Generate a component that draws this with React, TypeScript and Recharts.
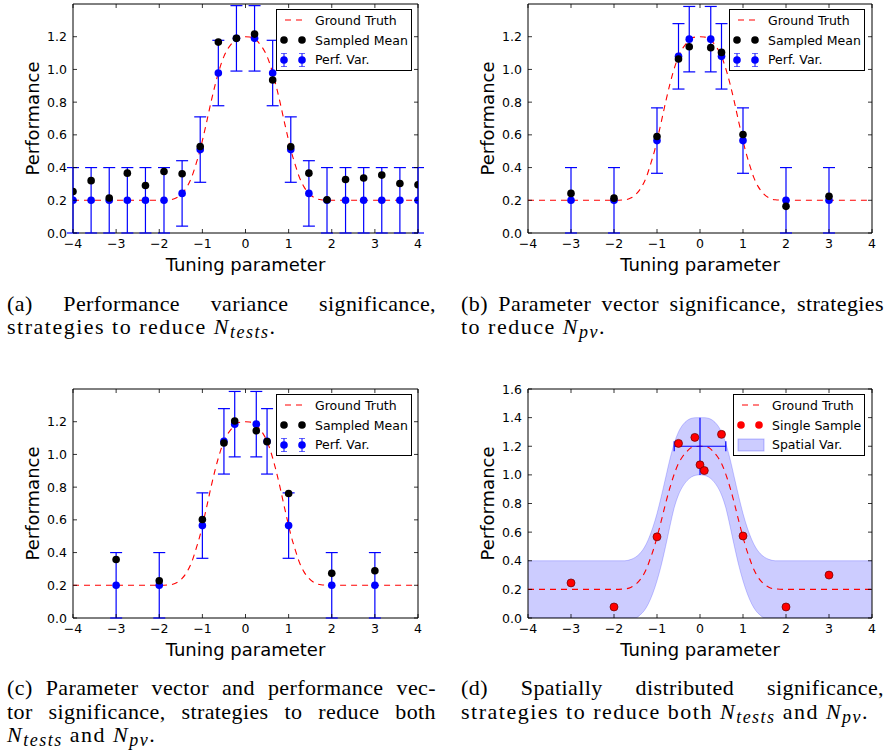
import React from "react";
import { Area, ComposedChart, ErrorBar, Label, Legend, Line, ReferenceArea, Scatter, XAxis, YAxis } from "recharts";

const FONT = "'DejaVu Sans', sans-serif";
const SERIF = "'Liberation Serif', 'DejaVu Serif', serif";

// ground truth curve
const GT_X = [-4, -2, -1.75, -1.6, -1.47, -1.35, -1.25, -1.15, -1.05, -1, -0.9, -0.8, -0.7, -0.63, -0.5, -0.4, -0.3, -0.21, -0.1, 0,
  0.1, 0.21, 0.3, 0.4, 0.5, 0.63, 0.7, 0.8, 0.9, 1, 1.05, 1.15, 1.25, 1.35, 1.47, 1.6, 1.75, 2, 4];
const GT_Y = [0.2, 0.2, 0.203, 0.215, 0.242, 0.285, 0.34, 0.42, 0.51, 0.565, 0.68, 0.8, 0.91, 0.978, 1.08, 1.13, 1.165, 1.19, 1.198, 1.2,
  1.198, 1.19, 1.165, 1.13, 1.08, 0.978, 0.91, 0.8, 0.68, 0.565, 0.51, 0.42, 0.34, 0.285, 0.242, 0.215, 0.203, 0.2, 0.2];

// (a) performance variance
const A_X = [-4, -3.58, -3.16, -2.74, -2.32, -1.89, -1.47, -1.05, -0.63, -0.21, 0.21, 0.63, 1.05, 1.47, 1.89, 2.32, 2.74, 3.16, 3.58, 4];
const A_MEAN = [0.254, 0.32, 0.214, 0.366, 0.29, 0.376, 0.362, 0.529, 1.167, 1.19, 1.216, 0.935, 0.527, 0.366, 0.203, 0.327, 0.336, 0.354, 0.303, 0.295];
const A_TRUE = [0.2, 0.2, 0.2, 0.2, 0.2, 0.2, 0.242, 0.51, 0.978, 1.19, 1.19, 0.978, 0.51, 0.242, 0.2, 0.2, 0.2, 0.2, 0.2, 0.2];
const A_ERR = [0.2, 0.2, 0.2, 0.2, 0.2, 0.2, 0.2, 0.2, 0.2, 0.2, 0.2, 0.2, 0.2, 0.2, 0.2, 0.2, 0.2, 0.2, 0.2, 0.2];

// (b), (c) parameter vectors
const PV_X = [-3, -2, -1, -0.5, -0.25, 0.25, 0.5, 1, 2, 3];
const PV_TRUE = [0.2, 0.2, 0.565, 1.08, 1.185, 1.185, 1.08, 0.565, 0.2, 0.2];
const PV_ERR = [0.2, 0.2, 0.2, 0.2, 0.2, 0.2, 0.2, 0.2, 0.2, 0.2];
const B_MEAN = [0.242, 0.213, 0.59, 1.064, 1.139, 1.133, 1.104, 0.602, 0.163, 0.224];
const C_MEAN = [0.358, 0.228, 0.602, 1.07, 1.204, 1.145, 1.078, 0.761, 0.273, 0.289];

// (d) spatial
const D_X = [-3, -2, -1, -0.5, -0.12, 0, 0.1, 0.5, 1, 2, 3];
const D_Y = [0.245, 0.077, 0.567, 1.22, 1.262, 1.07, 1.03, 1.283, 0.573, 0.077, 0.3];
const BAND_X = [-4, -1.75, -1.6, -1.5, -1.4, -1.3, -1.2, -1.1, -1, -0.9, -0.8, -0.7, -0.6, -0.5, -0.4, -0.3, -0.2, -0.1, 0,
  0.1, 0.2, 0.3, 0.4, 0.5, 0.6, 0.7, 0.8, 0.9, 1, 1.1, 1.2, 1.3, 1.4, 1.5, 1.6, 1.75, 4];
const BAND_HI = [0.4, 0.4, 0.41, 0.425, 0.45, 0.49, 0.55, 0.63, 0.73, 0.85, 0.98, 1.11, 1.22, 1.3, 1.35, 1.38, 1.395, 1.4, 1.4,
  1.4, 1.395, 1.38, 1.35, 1.3, 1.22, 1.11, 0.98, 0.85, 0.73, 0.63, 0.55, 0.49, 0.45, 0.425, 0.41, 0.4, 0.4];
const BAND_LO = [0, 0, 0, 0, 0.02, 0.05, 0.1, 0.17, 0.26, 0.37, 0.5, 0.64, 0.77, 0.86, 0.92, 0.96, 0.985, 0.997, 1,
  0.997, 0.985, 0.96, 0.92, 0.86, 0.77, 0.64, 0.5, 0.37, 0.26, 0.17, 0.1, 0.05, 0.02, 0, 0, 0, 0];
const CROSS = { x: 0, y: 1.2, ex: 0.6, ey: 0.2 };

const X_TICKS = [-4, -3, -2, -1, 0, 1, 2, 3, 4];
const Y_TICKS = [0, 0.2, 0.4, 0.6, 0.8, 1.0, 1.2];
const Y_TICKS_D = [0, 0.2, 0.4, 0.6, 0.8, 1.0, 1.2, 1.4, 1.6];

const groundTruth = GT_X.map((x, i) => ({ x, y: GT_Y[i] }));
const pts = (xs: number[], ys: number[], es?: number[]) => xs.map((x, i) => ({ x, y: ys[i], e: es ? es[i] : 0 }));
const band = BAND_X.map((x, i) => ({ x, range: [BAND_LO[i], BAND_HI[i]] }));

type Plot = { left: number; right: number; top: number; bottom: number };
const W = 446;
const H = 290;
const PAD = 10; // extra room above the frame so the top tick label is not cut

const fmtX = (v: number) => (v < 0 ? "\u2212" + Math.abs(v) : String(v));

const dot = (fill: string, r = 3.8, stroke = "none") => (p: any) =>
  <circle cx={p.cx} cy={p.cy} r={r} fill={fill} stroke={stroke} strokeWidth={0.7} />;

type Item = { label: string; kind: "dash" | "dots" | "err" | "patch"; color: string };

function Marker({ it }: { it: Item }) {
  if (it.kind === "dash") return <line x1={8} x2={27} y1={10} y2={10} stroke={it.color} strokeWidth={1.2} strokeDasharray="6 5" />;
  if (it.kind === "patch") return <rect x={4} y={4} width={26} height={12} fill="#0000ff" fillOpacity={0.2} stroke="#0000ff" strokeOpacity={0.25} />;
  const cs = [7, 25];
  return (
    <g>
      {cs.map((c) => (
        <g key={c}>
          {it.kind === "err" && (
            <g stroke="#0000ff" strokeWidth={1}>
              <line x1={c} x2={c} y1={3.5} y2={16.5} />
              <line x1={c - 3} x2={c + 3} y1={3.5} y2={3.5} strokeOpacity={0.6} />
              <line x1={c - 3} x2={c + 3} y1={16.5} y2={16.5} strokeOpacity={0.6} />
            </g>
          )}
          <circle cx={c} cy={10} r={3.8} fill={it.color} />
        </g>
      ))}
    </g>
  );
}

function LegendBox({ items, width }: { items: Item[]; width: number }) {
  return (
    <div style={{ width, height: 62, border: "1px solid #000", background: "#fff", boxSizing: "border-box", paddingTop: 0.5, fontFamily: FONT, fontSize: 12.5, color: "#000" }}>
      {items.map((it) => (
        <div key={it.label} style={{ display: "flex", alignItems: "center", height: 19.7, whiteSpace: "nowrap" }}>
          <svg width={35} height={20} style={{ flex: "none" }}><Marker it={it} /></svg>
          <span style={{ marginLeft: 3 }}>{it.label}</span>
        </div>
      ))}
    </div>
  );
}

function Panel({ plot, yMax, yTicks, legend, children }: { plot: Plot; yMax: number; yTicks: number[]; legend: { items: Item[]; left: number; width: number }; children: React.ReactNode }) {
  const xTick = (p: any) => (
    <g>
      <line x1={p.x} x2={p.x} y1={plot.bottom} y2={plot.bottom - 4} stroke="#000" strokeWidth={0.8} />
      <line x1={p.x} x2={p.x} y1={plot.top} y2={plot.top + 4} stroke="#000" strokeWidth={0.8} />
      <text x={p.x} y={plot.bottom + 15} textAnchor="middle" fontSize={12.5} fontFamily={FONT} fill="#000">{fmtX(p.payload.value)}</text>
    </g>
  );
  const yTick = (p: any) => (
    <g>
      <line x1={plot.left} x2={plot.left + 4} y1={p.y} y2={p.y} stroke="#000" strokeWidth={0.8} />
      <line x1={plot.right} x2={plot.right - 4} y1={p.y} y2={p.y} stroke="#000" strokeWidth={0.8} />
      <text x={plot.left - 6} y={p.y + 4.5} textAnchor="end" fontSize={12.5} fontFamily={FONT} fill="#000">{p.payload.value.toFixed(1)}</text>
    </g>
  );
  return (
    <ComposedChart width={W} height={H} margin={{ top: plot.top, right: W - plot.right, bottom: 0, left: 0 }}>
      <XAxis type="number" dataKey="x" domain={[-4, 4]} ticks={X_TICKS} allowDataOverflow height={H - plot.bottom}
        axisLine={false} tickLine={false} tick={xTick} interval={0}>
        <Label content={() => (
          <text x={(plot.left + plot.right) / 2} y={plot.bottom + 38} textAnchor="middle" fontSize={18} fontFamily={FONT} fill="#000">Tuning parameter</text>
        )} />
      </XAxis>
      <YAxis type="number" domain={[0, yMax]} ticks={yTicks} allowDataOverflow width={plot.left}
        axisLine={false} tickLine={false} tick={yTick} interval={0}>
        <Label content={() => {
          const cx = plot.left - 41;
          const cy = (plot.top + plot.bottom) / 2;
          return <text x={cx} y={cy} transform={`rotate(-90 ${cx} ${cy})`} textAnchor="middle" dominantBaseline="central" fontSize={18} fontFamily={FONT} fill="#000">Performance</text>;
        }} />
      </YAxis>
      {children}
      <ReferenceArea x1={-4} x2={4} y1={0} y2={yMax} fill="none" stroke="#000" strokeWidth={1} />
      <Legend layout="horizontal" verticalAlign="middle" align="center"
        wrapperStyle={{ left: legend.left, top: plot.top + 5, width: legend.width, height: 62 }}
        content={() => <LegendBox items={legend.items} width={legend.width} />} />
    </ComposedChart>
  );
}

const PV_LEGEND: Item[] = [
  { label: "Ground Truth", kind: "dash", color: "#ff0000" },
  { label: "Sampled Mean", kind: "dots", color: "#000" },
  { label: "Perf. Var.", kind: "err", color: "#0000ff" },
];
const D_LEGEND: Item[] = [
  { label: "Ground Truth", kind: "dash", color: "#ff0000" },
  { label: "Single Sample", kind: "dots", color: "#ff0000" },
  { label: "Spatial Var.", kind: "patch", color: "#0000ff" },
];

function gtLine() {
  return <Line data={groundTruth} dataKey="y" type="monotone" stroke="#ff0000" strokeWidth={1.1} strokeDasharray="6 5" dot={false} isAnimationActive={false} />;
}

function errSeries(xs: number[], ys: number[], es: number[]) {
  return (
    <Scatter data={pts(xs, ys, es)} dataKey="y" shape={dot("#0000ff")} isAnimationActive={false}>
      <ErrorBar dataKey="e" direction="y" width={6} stroke="#0000ff" strokeWidth={1.2} isAnimationActive={false} />
    </Scatter>
  );
}

const Sub = ({ children }: { children: React.ReactNode }) => (
  <sub style={{ fontSize: 18, fontStyle: "italic", verticalAlign: "-4px", lineHeight: 0 }}>{children}</sub>
);
const N = ({ s }: { s: string }) => <span><i>N</i><Sub>{s}</Sub></span>;

function Caption({ left, top, width, lines }: { left: number; top: number; width: number; lines: React.ReactNode[] }) {
  return (
    <div style={{ position: "absolute", left, top, width, fontFamily: SERIF, fontSize: 22, lineHeight: "23.5px", color: "#000" }}>
      {lines.map((l, i) => {
        const last = i === lines.length - 1;
        return (
          <div key={i} style={{ whiteSpace: "nowrap", textAlign: "justify", textAlignLast: last ? "left" : "justify", letterSpacing: last ? 1.5 : 0.4 }}>{l}</div>
        );
      })}
    </div>
  );
}

export default function App() {
  const plotA: Plot = { left: 73, right: 418, top: 4 + PAD, bottom: 233 + PAD };
  const plotB: Plot = { left: 82, right: 426, top: 4 + PAD, bottom: 233 + PAD };
  return (
    <div style={{ position: "absolute", left: 0, top: 0, width: 892, height: 756, background: "#fff", overflow: "hidden" }}>
      <div style={{ position: "absolute", left: 0, top: -PAD }}>
        <Panel plot={plotA} yMax={1.4} yTicks={Y_TICKS} legend={{ items: PV_LEGEND, left: 276, width: 136 }}>
          {gtLine()}
          {errSeries(A_X, A_TRUE, A_ERR)}
          <Scatter data={pts(A_X, A_MEAN)} dataKey="y" shape={dot("#000")} isAnimationActive={false} />
        </Panel>
      </div>
      <div style={{ position: "absolute", left: 446, top: -PAD }}>
        <Panel plot={plotB} yMax={1.4} yTicks={Y_TICKS} legend={{ items: PV_LEGEND, left: 283, width: 136 }}>
          {gtLine()}
          {errSeries(PV_X, PV_TRUE, PV_ERR)}
          <Scatter data={pts(PV_X, B_MEAN)} dataKey="y" shape={dot("#000")} isAnimationActive={false} />
        </Panel>
      </div>
      <div style={{ position: "absolute", left: 0, top: 385 - PAD }}>
        <Panel plot={plotA} yMax={1.4} yTicks={Y_TICKS} legend={{ items: PV_LEGEND, left: 276, width: 136 }}>
          {gtLine()}
          {errSeries(PV_X, PV_TRUE, PV_ERR)}
          <Scatter data={pts(PV_X, C_MEAN)} dataKey="y" shape={dot("#000")} isAnimationActive={false} />
        </Panel>
      </div>
      <div style={{ position: "absolute", left: 446, top: 385 - PAD }}>
        <Panel plot={plotB} yMax={1.6} yTicks={Y_TICKS_D} legend={{ items: D_LEGEND, left: 287, width: 132 }}>
          <Area data={band} dataKey="range" type="monotone" fill="#0000ff" fillOpacity={0.2} stroke="#0000ff" strokeOpacity={0.2} isAnimationActive={false} />
          {gtLine()}
          <Scatter data={[CROSS]} dataKey="y" shape={() => <g />} isAnimationActive={false}>
            <ErrorBar dataKey="ey" direction="y" width={0} stroke="#0000ff" strokeWidth={1.2} isAnimationActive={false} />
            <ErrorBar dataKey="ex" direction="x" width={5} stroke="#0000ff" strokeWidth={1.2} isAnimationActive={false} />
          </Scatter>
          <Scatter data={pts(D_X, D_Y)} dataKey="y" shape={dot("#ff0000", 4, "#660000")} isAnimationActive={false} />
        </Panel>
      </div>
      <Caption left={7} top={291.5} width={429} lines={[
        "(a) Performance variance significance,",
        <span>strategies to reduce <N s="tests" />.</span>,
      ]} />
      <Caption left={461} top={291.5} width={423} lines={[
        "(b) Parameter vector significance, strategies",
        <span>to reduce <N s="pv" />.</span>,
      ]} />
      <Caption left={7} top={676} width={429} lines={[
        "(c) Parameter vector and performance vec-",
        "tor significance, strategies to reduce both",
        <span><N s="tests" /> and <N s="pv" />.</span>,
      ]} />
      <Caption left={461} top={676} width={423} lines={[
        "(d) Spatially distributed significance,",
        <span>strategies to reduce both <N s="tests" /> and <N s="pv" />.</span>,
      ]} />
    </div>
  );
}
